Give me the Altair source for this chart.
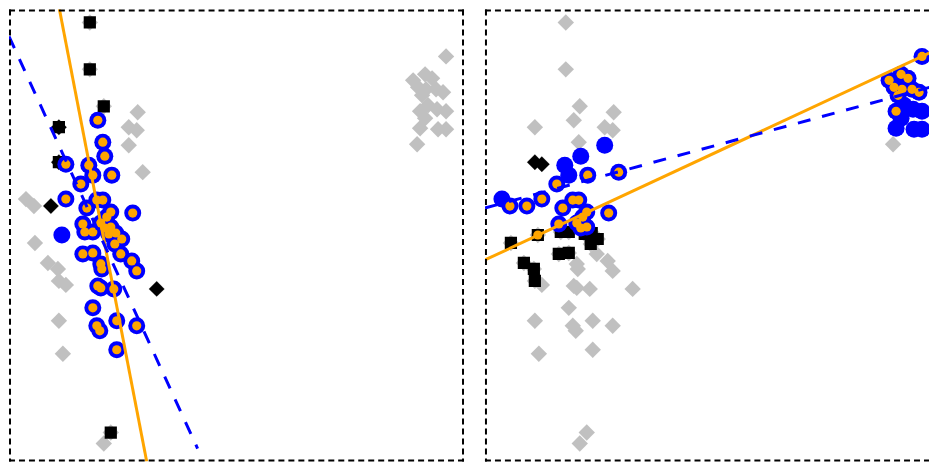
import altair as alt
import pandas as pd

# shared point cloud, read in panel pixel units (x from panel-1 left page edge, y downward)
pt_x = [89, 89, 103, 110, 103, 58, 58, 50, 156, 61,
        25, 33, 34, 47, 57, 58, 65, 58, 62,
        137, 128, 136, 128, 142,
        446, 413, 425, 432, 418, 426, 422, 436, 443, 420, 428, 437, 446, 425, 420, 438, 446, 417,
        97, 102, 104, 65, 88, 92, 111, 80, 65, 96, 102, 86, 110, 132, 82, 100, 106, 104, 110,
        84, 92, 108, 115, 121, 114, 82, 92, 100, 101, 120, 131, 136, 97, 100, 113, 92, 96, 99, 116, 136, 116]
pt_y = [21, 68, 105, 432, 443, 126, 161, 205, 288, 234,
        198, 205, 242, 262, 268, 280, 284, 320, 353,
        111, 126, 129, 144, 171,
        55, 79, 73, 77, 86, 88, 94, 88, 91, 110, 104, 108, 110, 117, 127, 128, 128, 143,
        119, 141, 155, 163, 164, 174, 174, 183, 198, 199, 199, 207, 211, 212, 223, 222, 216, 227, 226,
        231, 231, 233, 232, 238, 243, 253, 252, 263, 268, 253, 260, 270, 285, 287, 288, 307, 325, 330, 320, 325, 349]

# marker kind per point: g=gray only, s=square, d=diamond, b=blue, o=orange
kind_left = ["s", "s", "s", "s", "g", "sd", "sd", "d", "d", "b",
             "g", "g", "g", "g", "g", "g", "g", "g", "g",
             "g", "g", "g", "g", "g",
             "g", "g", "g", "g", "g", "g", "g", "g", "g", "g", "g", "g", "g", "g", "g", "g", "g", "g",
             "bo", "bo", "bo", "bo", "bo", "bo", "bo", "bo", "bo", "bo", "bo", "bo", "bo", "bo", "bo", "bo", "bo", "bo", "bo",
             "bo", "bo", "bo", "bo", "bo", "bo", "bo", "bo", "bo", "bo", "bo", "bo", "bo", "bo", "bo", "bo", "bo", "bo", "bo", "bo", "bo", "bo"]
kind_right = ["g", "g", "g", "g", "g", "g", "d", "bo", "g", "so",
              "b", "bo", "s", "s", "s", "s", "g", "g", "g",
              "g", "g", "g", "b", "bo",
              "bo", "bo", "bo", "bo", "bo", "bo", "bo", "bo", "bo", "bo", "b", "b", "b", "b", "b", "b", "b", "g",
              "g", "g", "b", "d", "b", "b", "bo", "bo", "bo", "bo", "bo", "bo", "bo", "bo", "bo", "bo", "bo", "bo", "bo",
              "s", "s", "s", "s", "s", "s", "s", "s", "g", "g", "g", "g", "g", "g", "g", "g", "g", "g", "g", "g", "g", "g"]

# fitted lines (endpoints)
solid_left_x, solid_left_y = [58, 146], [5, 461]
dash_left_x, dash_left_y = [8, 197], [35, 448]
solid_right_x, solid_right_y = [8, 461], [259, 48]
dash_right_x, dash_right_y = [8, 461], [207, 84]

H = 453
one = pd.DataFrame({"a": [0]})


def edge(**enc):
    return alt.Chart(one).mark_rule(color="black", strokeWidth=2, strokeDash=[6, 4]).encode(
        **{k: alt.value(v) for k, v in enc.items()})


def panel(kinds, sx, sy, dx, dy, W, xmax, right_edge):
    df = pd.DataFrame({"x": pt_x, "y": pt_y, "k": kinds})
    xs = alt.Scale(domain=[8, xmax], nice=False, zero=False)
    ys = alt.Scale(domain=[8, 461], reverse=True, nice=False, zero=False)
    X = alt.X("x:Q", scale=xs, axis=None)
    Y = alt.Y("y:Q", scale=ys, axis=None)
    base = alt.Chart(df)
    gray = base.mark_point(shape="diamond", filled=True, size=270, color="#c0c0c0", opacity=1, clip=True).encode(X, Y)
    sq = base.transform_filter("indexof(datum.k, 's') >= 0").mark_point(
        shape="square", filled=True, size=150, color="black", opacity=1, clip=True).encode(X, Y)
    dm = base.transform_filter("indexof(datum.k, 'd') >= 0").mark_point(
        shape="diamond", filled=True, size=240, color="black", opacity=1, clip=True).encode(X, Y)
    bl = base.transform_filter("indexof(datum.k, 'b') >= 0").mark_point(
        shape="circle", filled=True, size=290, color="#0000ff", opacity=1, clip=True).encode(X, Y)
    orr = base.transform_filter("indexof(datum.k, 'o') >= 0").mark_point(
        shape="circle", filled=True, size=85, color="#ffa500", opacity=1, clip=True).encode(X, Y)
    l1 = alt.Chart(pd.DataFrame({"x": sx, "y": sy})).mark_line(
        color="#ffa500", strokeWidth=3, clip=True).encode(X, Y)
    l2 = alt.Chart(pd.DataFrame({"x": dx, "y": dy})).mark_line(
        color="#0000ff", strokeWidth=3, strokeDash=[13, 12], clip=True).encode(X, Y)
    edges = [edge(x=0, x2=W, y=1), edge(x=0, x2=W, y=H - 1), edge(x=1, y=0, y2=H)]
    if right_edge:
        edges.append(edge(x=W - 1, y=0, y2=H))
    return alt.layer(gray, sq, dm, bl, orr, l1, l2, *edges).properties(width=W, height=H)


left = panel(kind_left, solid_left_x, solid_left_y, dash_left_x, dash_left_y, 456, 464, True)
right = panel(kind_right, solid_right_x, solid_right_y, dash_right_x, dash_right_y, 445, 453, False)

chart = alt.hconcat(left, right, spacing=21, bounds="flush").properties(padding=0).configure_view(stroke=None)

chart.save("out.html", embed_options={"renderer": "svg", "actions": False})
